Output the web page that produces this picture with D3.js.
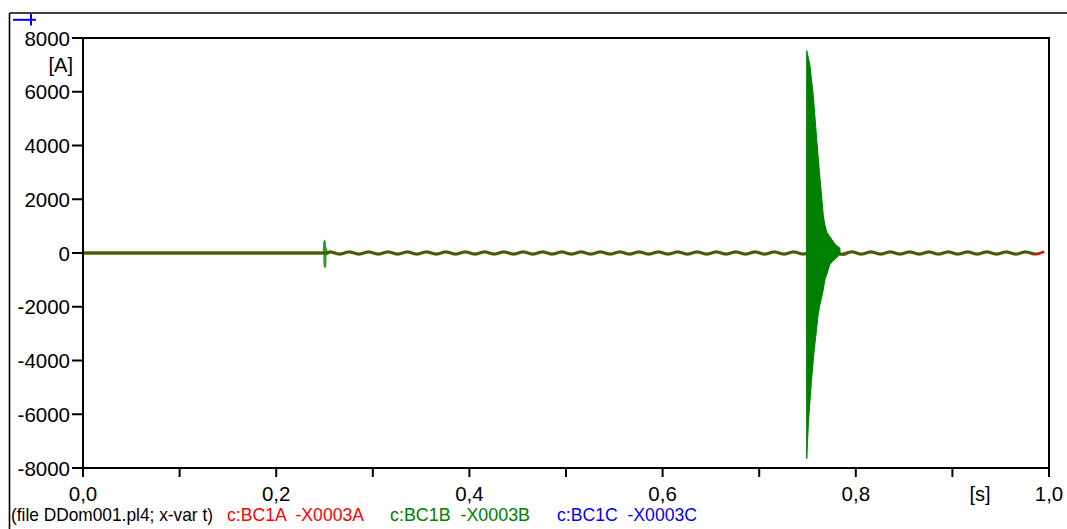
<!DOCTYPE html>
<html><head><meta charset="utf-8">
<script src="https://cdn.jsdelivr.net/npm/d3@7"></script>
<style>
html,body{margin:0;padding:0;background:#fff;}
svg{display:block;font-family:"Liberation Sans",Arial,sans-serif;}
text{white-space:pre;}
</style></head>
<body><svg id="c" width="1067" height="529"></svg>
<script>
// ---------- data ----------
const yTicks = [8000, 6000, 4000, 2000, 0, -2000, -4000, -6000, -8000];
const yTickLabels = ["8000","6000","4000","2000","0","-2000","-4000","-6000","-8000"];
const xMajor = [0.0, 0.2, 0.4, 0.6, 0.8, 1.0];
const xMajorLabels = ["0,0","0,2","0,4","0,6","0,8","1,0"];
const xMinor = [0.1, 0.3, 0.5, 0.7, 0.9];
const legendFile = "(file DDom001.pl4; x-var t)";
const legendNames = ["c:BC1A  -X0003A", "c:BC1B  -X0003B", "c:BC1C  -X0003C"];
const legendColors = ["#ff0000", "#008000", "#0000ff"];

// Phase A (red): flat before switching, then 50 Hz ripple, peaks every 10 ms from 0.255 s
const redFlatT = [0.0, 0.25];
const redFlatV = [0, 0];
const redPeakT0 = 0.255, peakStep = 0.01;
const redPeakV = [45,-45,45,-45,45,-45,45,-45,45,-45, 45,-45,45,-45,45,-45,45,-45,45,-45,
                  45,-45,45,-45,45,-45,45,-45,45,-45, 45,-45,45,-45,45,-45,45,-45,45,-45,
                  45,-45,45,-45,45,-45,45,-45,45,-45, 45,-45,45,-45,45,-45,45,-45,45,-45,
                  45,-45,45,-45,45,-45,45,-45,45,-45, 45,-45,45,-45,45];
// Phase B (green): flat, switching spike at 0.25 s, ripple, energising burst at 0.75 s
const greenFlatT = [0.0, 0.2495];
const greenFlatV = [0, 0];
const greenSpikeT = [0.2496, 0.2500, 0.2504, 0.2508, 0.2514, 0.2520];
const greenSpikeV = [0, 440, -510, 200, 120, -40];
const greenPeakT0 = 0.2567;
const greenPeakV = [45,-45,45,-45,45,-45,45,-45,45,-45, 45,-45,45,-45,45,-45,45,-45,45,-45,
                    45,-45,45,-45,45,-45,45,-45,45,-45, 45,-45,45,-45,45,-45,45,-45,45,-45,
                    45,-45,45,-45,45,-45,45,-45,45,-45, 150,-160,110,-70,50,-45,45,-45,45,-45,
                    45,-45,45,-45,45,-45,45,-45,45,-45, 45,-45,45,-45];
// High-frequency burst envelope (green) around 0.75 s
const burstT  = [0.7490, 0.7492, 0.7510, 0.7526, 0.7540, 0.7560, 0.7570, 0.7595, 0.7610, 0.7630, 0.7650, 0.7664, 0.7680, 0.7699, 0.7733, 0.7785, 0.7836];
const burstHi = [0,      7530,   7250,   6970,   6500,   5850,   5400,   4240,   3600,   2750,   1950,   1390,   1050,   780,    600,    330,    180];
const burstLo = [0,     -7650,  -6300,  -5500,  -4800,  -4000,  -3600,  -2800,  -2300,  -1900,  -1600,  -1340,  -1000,  -800,   -410,   -220,   -60];

// ---------- layout ----------
const svg = d3.select("#c");
const L = 83, R = 1049, T = 38, B = 468;
const x = d3.scaleLinear().domain([0, 1]).range([L, R]);
const y = d3.scaleLinear().domain([-8000, 8000]).range([B, T]);

// outer frame lines
svg.append("line").attr("x1", 9.5).attr("x2", 1067).attr("y1", 13).attr("y2", 13)
  .attr("stroke", "#000").attr("stroke-width", 1.6);
svg.append("line").attr("x1", 9.5).attr("x2", 9.5).attr("y1", 13).attr("y2", 529)
  .attr("stroke", "#000").attr("stroke-width", 1.6);

// blue marker
svg.append("line").attr("x1", 13).attr("x2", 36).attr("y1", 19.8).attr("y2", 19.8)
  .attr("stroke", "#0000ff").attr("stroke-width", 2);
svg.append("line").attr("x1", 31).attr("x2", 31).attr("y1", 14).attr("y2", 25.5)
  .attr("stroke", "#0000ff").attr("stroke-width", 2);

// series
const gData = svg.append("g");
function merge(tArrs, vArrs) {
  const out = [];
  tArrs.forEach((ta, i) => ta.forEach((t, j) => out.push([t, vArrs[i][j]])));
  return out.sort((a, b) => a[0] - b[0]);
}
const redPeakT = redPeakV.map((_, i) => redPeakT0 + i * peakStep);
const greenPeakT = greenPeakV.map((_, i) => greenPeakT0 + i * peakStep);
const redData = merge([redFlatT, redPeakT], [redFlatV, redPeakV]);
const greenData = merge([greenFlatT, greenSpikeT, greenPeakT], [greenFlatV, greenSpikeV, greenPeakV]);

const line = d3.line().x(d => x(d[0])).y(d => y(d[1])).curve(d3.curveMonotoneX);
gData.append("path").datum(redData).attr("d", line)
  .attr("fill", "none").attr("stroke", "#ff0000").attr("stroke-width", 2.8);
gData.append("path").datum(greenData).attr("d", line)
  .attr("fill", "none").attr("stroke", "#008000").attr("stroke-width", 2.8).attr("stroke-opacity", 0.8);

const burst = burstT.map((t, i) => ({t, hi: burstHi[i], lo: burstLo[i]}));
gData.append("path").datum(burst)
  .attr("d", d3.area().x(d => x(d.t)).y0(d => y(d.lo)).y1(d => y(d.hi)).curve(d3.curveLinear))
  .attr("fill", "#008000").attr("stroke", "#008000").attr("stroke-width", 1);

// plot frame
svg.append("rect").attr("x", L).attr("y", T).attr("width", R - L).attr("height", B - T)
  .attr("fill", "none").attr("stroke", "#000").attr("stroke-width", 2);

// y axis ticks
const gy = svg.append("g");
gy.selectAll("line").data(yTicks).join("line")
  .attr("x1", 72).attr("x2", L).attr("y1", d => y(d)).attr("y2", d => y(d))
  .attr("stroke", "#000").attr("stroke-width", 2);
gy.selectAll("text").data(yTicks).join("text")
  .attr("x", 70).attr("y", d => y(d) + 7.5).attr("text-anchor", "end")
  .attr("font-size", 20.5).text((d, i) => yTickLabels[i]);
svg.append("text").attr("x", 73).attr("y", 72).attr("text-anchor", "end")
  .attr("font-size", 20).text("[A]");

// x axis ticks
const gx = svg.append("g");
gx.selectAll("line.maj").data(xMajor.concat(xMinor)).join("line")
  .attr("x1", d => x(d)).attr("x2", d => x(d)).attr("y1", B).attr("y2", B + 9)
  .attr("stroke", "#000").attr("stroke-width", 2);
gx.selectAll("text").data(xMajor).join("text")
  .attr("x", d => x(d)).attr("y", 501).attr("text-anchor", "middle")
  .attr("font-size", 20.5).text((d, i) => xMajorLabels[i]);
svg.append("text").attr("x", 980).attr("y", 501).attr("text-anchor", "middle")
  .attr("font-size", 20).text("[s]");

// legend
svg.append("text").attr("x", 11).attr("y", 521).attr("font-size", 19)
  .attr("textLength", 202).attr("lengthAdjust", "spacingAndGlyphs").text(legendFile);
const legX = [227, 390, 557];
const legW = [137, 140, 140];
legendNames.forEach((n, i) => {
  svg.append("text").attr("x", legX[i]).attr("y", 521).attr("font-size", 19)
    .attr("fill", legendColors[i]).attr("textLength", legW[i])
    .attr("lengthAdjust", "spacingAndGlyphs").text(n);
});
</script></body></html>
